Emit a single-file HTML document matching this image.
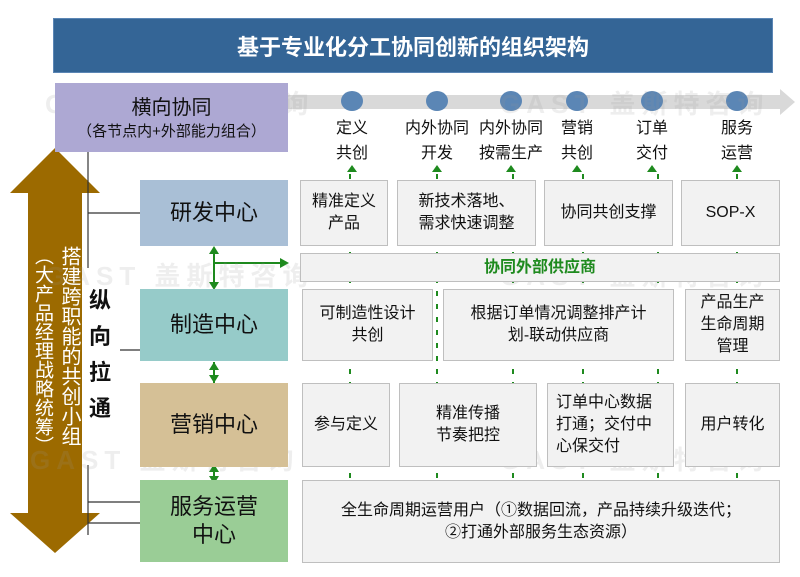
<!DOCTYPE html>
<html><head><meta charset="utf-8"><style>
*{margin:0;padding:0;box-sizing:border-box}
body{width:800px;height:577px;background:#fff;position:relative;overflow:hidden;font-family:"Liberation Sans","Noto Sans CJK SC",sans-serif}
.a{position:absolute;display:flex;align-items:center;justify-content:center;text-align:center}
.w{background:#F2F2F2;border:1px solid #BFBFBF;font-size:16px;color:#111;line-height:22px}
.c{font-size:22px;color:#111;line-height:28px}
.lab{position:absolute;font-size:16px;color:#111;line-height:25px;text-align:center;width:80px}
.wm{position:absolute;font-size:26px;font-weight:bold;color:rgba(150,150,150,0.16);letter-spacing:6px;white-space:nowrap}
.vt{position:absolute;writing-mode:vertical-rl;color:#fff;font-size:19px;line-height:20px;letter-spacing:0}
</style></head><body>
<div class="a" style="left:53px;top:18px;width:720px;height:55px;background:#346596;color:#fff;font-size:22px;font-weight:bold;border:1px solid #5b86b5">基于专业化分工协同创新的组织架构</div>

<svg style="position:absolute;left:0;top:0" width="800" height="577">
<polygon points="288,95 780,95 780,89 795,102 780,115 780,109 288,109" fill="#D9D9D9"/>
<g fill="#5B86B5">
<ellipse cx="352" cy="101" rx="11" ry="10"/><ellipse cx="437" cy="101" rx="11" ry="10"/><ellipse cx="511" cy="101" rx="11" ry="10"/><ellipse cx="577" cy="101" rx="11" ry="10"/><ellipse cx="652" cy="101" rx="11" ry="10"/><ellipse cx="737" cy="101" rx="11" ry="10"/>
</g>
<g fill="#1E8A1E">
<polygon points="347,172 357,172 352,165"/><polygon points="432,172 442,172 437,165"/><polygon points="506,172 516,172 511,165"/><polygon points="572,172 582,172 577,165"/><polygon points="647,172 657,172 652,165"/><polygon points="732,172 742,172 737,165"/>
</g>
<g stroke="#1E8A1E" stroke-width="2" stroke-dasharray="5,8">
<line x1="350" y1="174" x2="350" y2="480"/><line x1="437" y1="174" x2="437" y2="480"/><line x1="513" y1="174" x2="513" y2="480"/><line x1="583" y1="174" x2="583" y2="480"/><line x1="658" y1="174" x2="658" y2="480"/><line x1="737" y1="174" x2="737" y2="480"/>
</g>
<polygon points="55,148 100,193 82,193 82,513 100,513 55,553 10,513 28,513 28,193 10,193" fill="#9C6A00"/>
<g stroke="#333" stroke-width="1.2" fill="none">
<line x1="88" y1="152" x2="88" y2="268"/><line x1="88" y1="213" x2="140" y2="213"/>
<line x1="120" y1="350" x2="140" y2="350"/>
<line x1="88" y1="465" x2="88" y2="535"/><line x1="88" y1="502" x2="140" y2="502"/><line x1="88" y1="523" x2="140" y2="523"/>
</g>
<g stroke="#1E8A1E" stroke-width="2" fill="#1E8A1E">
<line x1="214" y1="254" x2="214" y2="282"/><line x1="214" y1="263" x2="280" y2="263"/>
<line x1="214" y1="362" x2="214" y2="383"/><line x1="214" y1="464" x2="214" y2="484"/>
</g>
<g fill="#1E8A1E">
<polygon points="209,254 219,254 214,246"/><polygon points="209,282 219,282 214,290"/><polygon points="280,258 280,268 289,263"/>
<polygon points="209,370 219,370 214,362"/><polygon points="209,375 219,375 214,383"/>
<polygon points="209,472 219,472 214,464"/><polygon points="209,476 219,476 214,484"/>
</g>
</svg>

<div class="wm" style="left:45px;top:84px">GAST 盖斯特咨询</div>
<div class="wm" style="left:500px;top:84px">GAST 盖斯特咨询</div>
<div class="wm" style="left:45px;top:256px">GAST 盖斯特咨询</div>
<div class="wm" style="left:500px;top:256px">GAST 盖斯特咨询</div>
<div class="wm" style="left:30px;top:440px">GAST 盖斯特咨询</div>
<div class="wm" style="left:500px;top:440px">GAST 盖斯特咨询</div>

<div class="a" style="left:55px;top:83px;width:233px;height:69px;background:#ADA8D3;flex-direction:column;color:#111">
<div style="font-size:20px;line-height:28px">横向协同</div><div style="font-size:15px;line-height:20px">（各节点内+外部能力组合）</div></div>

<div class="lab" style="left:312px;top:116px">定义<br>共创</div>
<div class="lab" style="left:397px;top:116px">内外协同<br>开发</div>
<div class="lab" style="left:471px;top:116px">内外协同<br>按需生产</div>
<div class="lab" style="left:537px;top:116px">营销<br>共创</div>
<div class="lab" style="left:612px;top:116px">订单<br>交付</div>
<div class="lab" style="left:697px;top:116px">服务<br>运营</div>

<div class="a c" style="left:140px;top:180px;width:148px;height:66px;background:#A9BFD6">研发中心</div>
<div class="a c" style="left:140px;top:289px;width:148px;height:72px;background:#96CBC9">制造中心</div>
<div class="a c" style="left:140px;top:383px;width:148px;height:84px;background:#D5C096">营销中心</div>
<div class="a c" style="left:140px;top:480px;width:148px;height:82px;background:#9ACD96">服务运营<br>中心</div>

<div class="a w" style="left:300px;top:180px;width:88px;height:66px">精准定义<br>产品</div>
<div class="a w" style="left:397px;top:180px;width:139px;height:66px">新技术落地、<br>需求快速调整</div>
<div class="a w" style="left:544px;top:180px;width:129px;height:66px">协同共创支撑</div>
<div class="a w" style="left:681px;top:180px;width:99px;height:66px">SOP-X</div>
<div class="a w" style="left:300px;top:253px;width:480px;height:29px;color:#1E8A1E;font-weight:bold">协同外部供应商</div>
<div class="a w" style="left:302px;top:289px;width:131px;height:72px">可制造性设计<br>共创</div>
<div class="a w" style="left:443px;top:289px;width:231px;height:72px">根据订单情况调整排产计<br>划-联动供应商</div>
<div class="a w" style="left:685px;top:289px;width:95px;height:72px">产品生产<br>生命周期<br>管理</div>
<div class="a w" style="left:302px;top:383px;width:88px;height:84px">参与定义</div>
<div class="a w" style="left:399px;top:383px;width:138px;height:84px">精准传播<br>节奏把控</div>
<div class="a w" style="left:547px;top:383px;width:127px;height:84px;text-align:left;justify-content:flex-start;padding-left:8px">订单中心数据<br>打通；交付中<br>心保交付</div>
<div class="a w" style="left:685px;top:383px;width:95px;height:84px">用户转化</div>
<div class="a w" style="left:302px;top:480px;width:478px;height:83px">全生命周期运营用户（①数据回流，产品持续升级迭代；<br>②打通外部服务生态资源）</div>

<div class="vt" style="left:59px;top:246px;font-size:20px">搭建跨职能的共创小组</div>
<div class="vt" style="left:32px;top:246px">（大产品经理战略统筹）</div>
<div style="position:absolute;left:88px;top:283px;width:24px;font-size:22px;line-height:36px;font-weight:bold;color:#111;text-align:center">纵向拉通</div>
</body></html>
